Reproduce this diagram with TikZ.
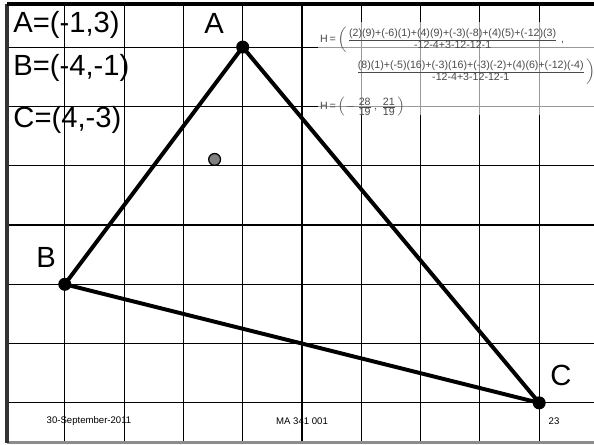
\documentclass[tikz,border=0pt]{standalone}
\usepackage{amsmath}
\usepackage{fontspec}
\setmainfont{Liberation Sans}
\definecolor{ink}{HTML}{000000}
\definecolor{rim}{HTML}{8C8C8C}
\definecolor{calcgray}{HTML}{4A4A4A}
\definecolor{hdot}{HTML}{808080}
\newcommand{\vlabel}{\fontsize{14}{16}\selectfont}
\newcommand{\calcfont}{\fontsize{5.1}{6}\selectfont}
\newcommand{\slidefoot}{\fontsize{4.6}{5.6}\selectfont}
\newcommand{\calcfrac}[2]{\genfrac{}{}{0.3pt}{1}{\hbox{#1}}{\hbox{#2}}}
\tikzset{
  gridline/.style={ink,line width=0.5pt},
  axisline/.style={ink,line width=1pt},
  vertexdot/.style={circle,fill=ink,inner sep=0,minimum size=0.22cm},
  calcline/.style={anchor=west,inner sep=0,font=\calcfont,text=calcgray},
}

\begin{document}
\begin{tikzpicture}[x=1cm,y=1cm,font=\vlabel]
\useasboundingbox (-5.093,-3.710) rectangle (4.924,3.794);
% grid
\draw[gridline] (-4,3.727) -- (-4,-3.676);
\draw[gridline] (-3,3.727) -- (-3,-3.676);
\draw[gridline] (-2,3.727) -- (-2,-3.676);
\draw[gridline] (-1,3.727) -- (-1,-3.676);
\draw[gridline] (1,3.727) -- (1,-3.676);
\draw[gridline] (2,3.727) -- (2,-3.676);
\draw[gridline] (3,3.727) -- (3,-3.676);
\draw[gridline] (4,3.727) -- (4,-3.676);
\draw[gridline] (-4.975,3) -- (4.924,3);
\draw[gridline] (-4.975,2) -- (4.924,2);
\draw[gridline] (-4.975,1) -- (4.924,1);
\draw[gridline] (-4.975,-1) -- (4.924,-1);
\draw[gridline] (-4.975,-2) -- (4.924,-2);
\draw[gridline] (-4.975,-3) -- (4.924,-3);
\draw[axisline] (0,3.727) -- (0,-3.676);
\draw[axisline] (-4.975,0) -- (4.924,0);
% pasted calculation panel
\fill[white,fill opacity=0.6] (0.27,3.42) rectangle (4.924,1.855);
% slide frame
\draw[rim,line width=1.4pt] (-4.975,-3.676) -- (4.924,-3.676);
\draw[ink!80,line width=1.6pt] (-4.975,3.727) -- (-4.975,-3.676);
\draw[ink,line width=1.5pt] (-4.975,3.727) -- (4.924,3.727);
% triangle
\coordinate (A) at (-1,3);
\coordinate (B) at (-4,-1);
\coordinate (C) at (4,-3);
\coordinate (H) at (-1.4737,1.1053);
\draw[ink,line width=1.9pt,line join=round] (A) -- (B) -- (C) -- cycle;
\node[vertexdot] (dotA) at (A) {};
\node[vertexdot] (dotB) at (B) {};
\node[vertexdot] (dotC) at (C) {};
\node[circle,fill=hdot,draw=ink,line width=0.6pt,inner sep=0,minimum size=0.2cm] (dotH) at (H) {};
\node[inner sep=0] (nameA) at (-1.484,3.406) {A};
\node[inner sep=0] (nameB) at (-4.317,-0.556) {B};
\node[inner sep=0] (nameC) at (4.368,-2.546) {C};
% given points
\node[anchor=west,inner sep=0] (givenA) at (-4.873,3.373) {A=(-1,3)};
\node[anchor=west,inner sep=0] (givenB) at (-4.873,2.648) {B=(-4,-1)};
\node[anchor=west,inner sep=0] (givenC) at (-4.873,1.771) {C=(4,-3)};
% orthocenter calculation
\node[calcline] (calcx) at (0.30,3.12)
  {H\,=\,$\left(\calcfrac{(2)(9)+(-6)(1)+(4)(9)+(-3)(-8)+(4)(5)+(-12)(3)}{-12-4+3-12-12-1}\right.$,};
\node[calcline] (calcy) at (0.85,2.58)
  {$\left.\calcfrac{(8)(1)+(-5)(16)+(-3)(16)+(-3)(-2)+(4)(6)+(-12)(-4)}{-12-4+3-12-12-1}\right)$};
\node[calcline] (calcH) at (0.30,1.99)
  {H\,=\,$\left(-\calcfrac{28}{19},\calcfrac{21}{19}\right)$};
% footer
\node[font=\slidefoot] (footdate) at (-3.592,-3.305) {30-September-2011};
\node[font=\slidefoot] (footcourse) at (0,-3.305) {MA 341 001};
\node[font=\slidefoot] (footpage) at (4.25,-3.305) {23};
\end{tikzpicture}
\end{document}
